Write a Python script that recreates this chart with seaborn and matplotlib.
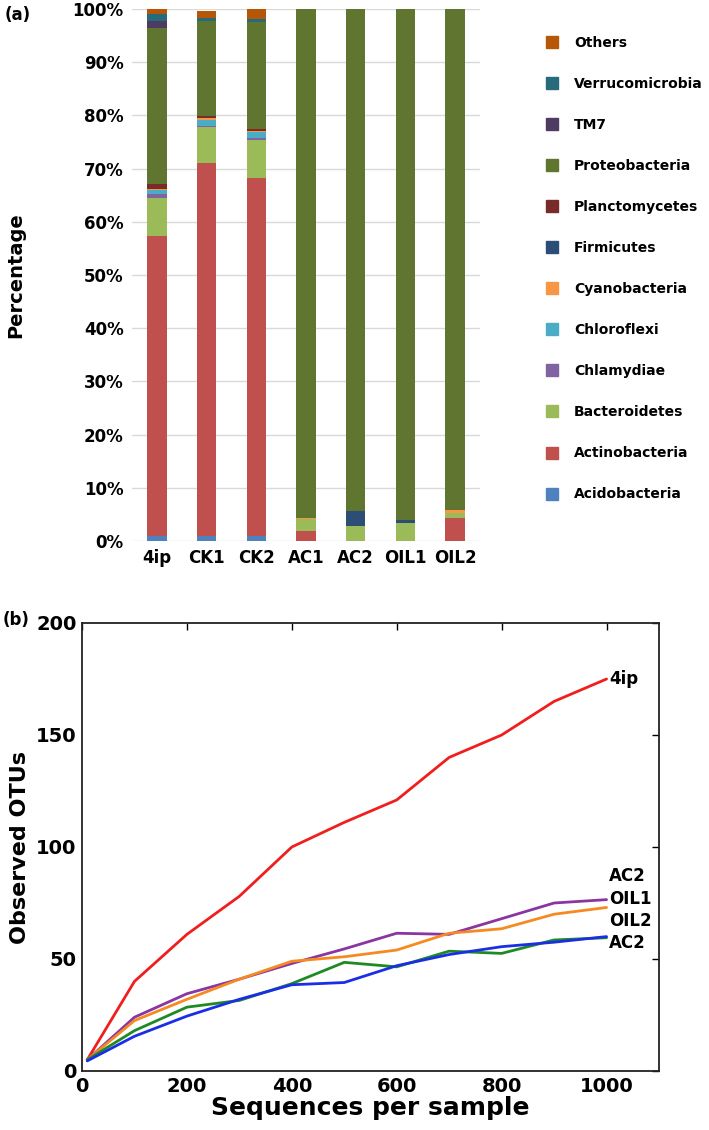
import numpy as np
import pandas as pd
import matplotlib
matplotlib.use('Agg')
import matplotlib.pyplot as plt
from matplotlib.lines import Line2D
import seaborn as sns

# ---- data: (a) phylum composition (%) ----
samples = ['4ip', 'CK1', 'CK2', 'AC1', 'AC2', 'OIL1', 'OIL2']
phyla = ['Acidobacteria', 'Actinobacteria', 'Bacteroidetes', 'Chlamydiae',
         'Chloroflexi', 'Cyanobacteria', 'Firmicutes', 'Planctomycetes',
         'Proteobacteria', 'TM7', 'Verrucomicrobia', 'Others']
acidobacteria = [1.0, 1.0, 1.0, 0.0, 0.0, 0.0, 0.0]
actinobacteria = [56.3, 70.1, 67.2, 1.8, 0.0, 0.0, 4.3]
bacteroidetes = [7.2, 6.7, 7.1, 2.3, 2.8, 3.4, 1.0]
chlamydiae = [0.7, 0.2, 0.5, 0.0, 0.0, 0.0, 0.0]
chloroflexi = [0.8, 1.1, 1.0, 0.0, 0.0, 0.0, 0.0]
cyanobacteria = [0.2, 0.5, 0.3, 0.2, 0.0, 0.0, 0.5]
firmicutes = [0.0, 0.0, 0.0, 0.0, 2.9, 0.5, 0.0]
planctomycetes = [0.9, 0.3, 0.4, 0.0, 0.0, 0.0, 0.0]
proteobacteria = [29.3, 17.8, 20.1, 95.7, 94.3, 96.1, 94.2]
tm7 = [1.4, 0.0, 0.0, 0.0, 0.0, 0.0, 0.0]
verrucomicrobia = [1.3, 0.6, 0.5, 0.0, 0.0, 0.0, 0.0]
others = [0.9, 1.4, 1.9, 0.0, 0.0, 0.0, 0.0]
phylum_values = [acidobacteria, actinobacteria, bacteroidetes, chlamydiae,
                 chloroflexi, cyanobacteria, firmicutes, planctomycetes,
                 proteobacteria, tm7, verrucomicrobia, others]
phylum_colors = ['#4F81BD', '#C0504D', '#9BBB59', '#8064A2', '#4BACC6', '#F79646',
                 '#2C4D75', '#772C2A', '#5F7530', '#4D3B62', '#276A7C', '#B65708']

# ---- data: (b) rarefaction curves ----
seqs = [10, 100, 200, 300, 400, 500, 600, 700, 800, 900, 1000]
otu_4ip = [5, 40, 61, 78, 100, 111, 121, 140, 150, 165, 175]
otu_purple = [5, 24, 34.5, 41, 48, 54.5, 61.5, 61, 68, 75, 76.5]
otu_orange = [5, 22.5, 32, 41, 49, 51, 54, 61.5, 63.5, 70, 73]
otu_green = [5, 18, 28.5, 31.5, 39, 48.5, 46.5, 53.5, 52.5, 58.5, 59.5]
otu_blue = [4.5, 15.5, 24.5, 32, 38.5, 39.5, 47, 52, 55.5, 57.5, 60]
curve_names = ['4ip', 'purple', 'orange', 'green', 'blue']
curve_values = [otu_4ip, otu_purple, otu_orange, otu_green, otu_blue]
curve_colors = ['#f01e1e', '#8a35a0', '#f58a22', '#1f8a24', '#1a2ee6']
end_labels = ['4ip', 'AC2', 'OIL1', 'OIL2', 'AC2']
end_label_y = [175, 87, 77, 67, 57]

sns.set_theme(style='white')
plt.rcParams['font.family'] = ['DejaVu Sans']
plt.rcParams['font.weight'] = 'bold'
plt.rcParams['text.color'] = 'black'
plt.rcParams['axes.labelcolor'] = 'black'
plt.rcParams['xtick.color'] = 'black'
plt.rcParams['ytick.color'] = 'black'

fig = plt.figure(figsize=(7.09, 11.3), dpi=100)

# ---------------- (a) stacked bars ----------------
ax1 = fig.add_axes([132 / 709, 1 - 541 / 1130, 348 / 709, 532 / 1130])
bottom = np.zeros(len(samples))
for name, vals, col in zip(phyla, phylum_values, phylum_colors):
    sns.barplot(x=samples, y=vals, bottom=bottom, color=col, saturation=1,
                width=0.39, errorbar=None, ax=ax1, linewidth=0)
    bottom = bottom + np.array(vals)

ax1.set_ylim(0, 100)
ax1.set_xlim(-0.5, 6.5)
ax1.set_yticks(range(0, 101, 10))
ax1.set_yticklabels([f'{v}%' for v in range(0, 101, 10)], fontsize=12, fontweight='bold')
ax1.set_xticklabels(samples, fontsize=12, fontweight='bold')
ax1.yaxis.grid(True, color='#d9d9d9', lw=1)
ax1.set_axisbelow(True)
for s in ax1.spines.values():
    s.set_visible(False)
ax1.tick_params(length=0, pad=6)
ax1.set_ylabel('Percentage', fontsize=14, fontweight='bold', labelpad=34)

handles = [Line2D([], [], marker='s', ls='none', color=c, markersize=8)
           for c in phylum_colors[::-1]]
fig.legend(handles, phyla[::-1], loc='upper left', bbox_to_anchor=(538 / 709, 1 - 30 / 1130),
           frameon=False, labelspacing=1.95, handlelength=1.2,
           handletextpad=1.0, borderaxespad=0, prop={'weight': 'bold', 'size': 10})

fig.text(5 / 709, 1 - 20 / 1130, '(a)', fontsize=12, fontweight='bold')

# ---------------- (b) rarefaction ----------------
ax2 = fig.add_axes([82 / 709, 59 / 1130, 577 / 709, 448 / 1130])
curves = pd.DataFrame({
    'seqs': np.tile(seqs, len(curve_names)),
    'otus': np.concatenate(curve_values),
    'sample': np.repeat(curve_names, len(seqs)),
})
sns.lineplot(data=curves, x='seqs', y='otus', hue='sample', palette=curve_colors,
             lw=2, legend=False, ax=ax2)
for txt, yy in zip(end_labels, end_label_y):
    ax2.text(1005, yy, txt, fontsize=12, fontweight='bold', va='center', ha='left')

ax2.set_xlim(0, 1100)
ax2.set_ylim(0, 200)
ax2.set_xticks(range(0, 1001, 200))
ax2.set_yticks(range(0, 201, 50))
ax2.tick_params(direction='in', top=True, right=True, length=5, width=1,
                labelsize=14, colors='black', pad=4)
for lab in ax2.get_xticklabels() + ax2.get_yticklabels():
    lab.set_fontweight('bold')
for s in ax2.spines.values():
    s.set_color('#222222')
    s.set_linewidth(1.3)
ax2.set_xlabel('Sequences per sample', fontsize=18, fontweight='bold', labelpad=0)
ax2.set_ylabel('Observed OTUs', fontsize=16, fontweight='bold', labelpad=4)

fig.text(3 / 709, 1 - 625 / 1130, '(b)', fontsize=12, fontweight='bold')

fig.savefig('out.png', dpi=100)
